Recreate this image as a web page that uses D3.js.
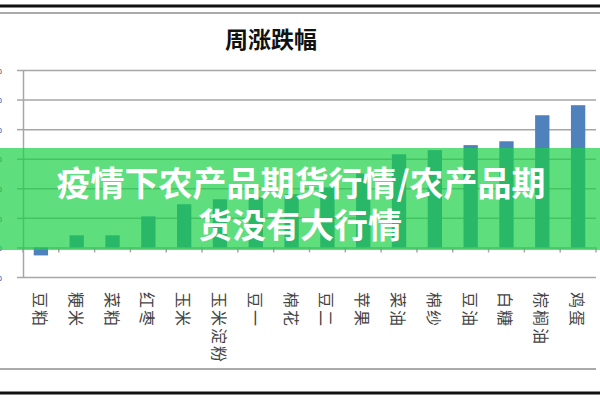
<!DOCTYPE html>
<html>
    <head>
        <meta charset="utf-8">
        <style>
            body{
                margin: 0;
                background-color: white;
            }
            text{
                font-family: "Noto Sans CJK SC", "Noto Sans", sans-serif;
            }
        </style>
        <script src="https://d3js.org/d3.v7.min.js"></script>
    </head>
    <body>
        <script>
            const w = 600;
            const h = 400;

            // data (weekly change, %)
            const categories = ["豆粕","粳米","菜粕","红枣","玉米","玉米淀粉","豆一","棉花","豆二","苹果","菜油","棉纱","豆油","白糖","棕榈油","鸡蛋"];
            const values = [-0.27, 0.41, 0.41, 1.05, 1.46, 1.63, 1.69, 1.8, 2.03, 2.5, 3.15, 3.29, 3.46, 3.59, 4.47, 4.81];
            const yTicks = [-1, 0, 1, 2, 3, 4, 5, 6];
            const title = "周涨跌幅";
            const bannerLines = ["疫情下农产品期货行情/农产品期", "货没有大行情"];

            const plotLeft = 23, plotRight = 596, plotTop = 70, plotBottom = 277;

            const svg = d3.select("body")
                        .append("svg")
                        .attr("width", w)
                        .attr("height", h)

            // frame lines of the screenshot
            svg.append("line").attr("x1",0).attr("x2",w).attr("y1",6).attr("y2",6)
                .attr("stroke","#111").attr("stroke-width",3)
            svg.append("line").attr("x1",0).attr("x2",w).attr("y1",13).attr("y2",13)
                .attr("stroke","#aaa").attr("stroke-width",2)
            svg.append("line").attr("x1",0).attr("x2",plotRight).attr("y1",369).attr("y2",369)
                .attr("stroke","#aaa").attr("stroke-width",2)
            svg.append("line").attr("x1",0).attr("x2",w).attr("y1",393).attr("y2",393)
                .attr("stroke","#111").attr("stroke-width",3)

            svg.append("text")
                .attr("x", 271)
                .attr("y", 38)
                .attr("text-anchor","middle")
                .attr("dominant-baseline","central")
                .style("font-size","23px")
                .style("font-weight","bold")
                .attr("fill","#111")
                .text(title)

            const x = d3.scaleBand()
                        .domain(categories)
                        .range([plotLeft, plotRight])
                        .paddingInner(0.6)
                        .paddingOuter(0.3)

            const y = d3.scaleLinear()
                        .domain([d3.min(yTicks), d3.max(yTicks)])
                        .range([plotBottom, plotTop])

            // gridlines
            svg.append("g")
                .attr("transform","translate(" + plotLeft + ",0)")
                .call(d3.axisLeft(y).tickValues(yTicks).tickSize(-(plotRight-plotLeft)).tickFormat(""))
                .call(g => g.select(".domain").remove())
                .call(g => g.selectAll("line").attr("stroke","#a6a6a6").attr("stroke-width",1.5))

            // y axis with outer ticks and (cut off) labels
            svg.append("g")
                .attr("transform","translate(" + plotLeft + ",0)")
                .call(d3.axisLeft(y).tickValues(yTicks).tickSize(6).tickSizeOuter(0).tickPadding(15).tickFormat(d => d + "%"))
                .call(g => g.select(".domain").attr("stroke","#a6a6a6").attr("stroke-width",1.5))
                .call(g => g.selectAll("line").attr("stroke","#a6a6a6").attr("stroke-width",1.5))
                .call(g => g.selectAll("text").attr("fill","#2f5597").style("font-size","10px"))

            // bars
            svg.selectAll("rect.bar")
                .data(values)
                .enter()
                .append("rect")
                .attr("class","bar")
                .attr("x",(d,i) => x(categories[i]))
                .attr("y",d => y(Math.max(0,d)))
                .attr("width",x.bandwidth())
                .attr("height",d => Math.abs(y(d) - y(0)))
                .attr("fill","#4f81bd")

            // category boundary ticks on the zero line
            const bounds = categories.map(c => x(c) + x.bandwidth()/2 - x.step()/2)
            bounds.push(plotRight)
            svg.selectAll("line.ctick")
                .data(bounds)
                .enter()
                .append("line")
                .attr("class","ctick")
                .attr("x1",d => d).attr("x2",d => d)
                .attr("y1",y(0)).attr("y2",y(0)+5)
                .attr("stroke","#a6a6a6").attr("stroke-width",1.5)

            // category labels, rotated
            svg.selectAll("text.cat")
                .data(categories)
                .enter()
                .append("text")
                .attr("class","cat")
                .attr("transform",d => "translate(" + (x(d) + x.bandwidth()/2) + ",292) rotate(90)")
                .attr("dominant-baseline","central")
                .style("font-size","16px")
                .style("letter-spacing","2px")
                .attr("fill","#444")
                .text(d => d)

            // green banner on top
            svg.append("rect")
                .attr("x",0).attr("y",148)
                .attr("width",w).attr("height",102)
                .attr("fill","rgb(26,208,69)")
                .attr("fill-opacity",0.7)

            svg.selectAll("text.banner")
                .data(bannerLines)
                .enter()
                .append("text")
                .attr("class","banner")
                .attr("x",(d,i) => i == 0 ? 301 : 300)
                .attr("y",(d,i) => 181 + i*42)
                .attr("text-anchor","middle")
                .attr("dominant-baseline","central")
                .style("font-size","34px")
                .style("font-weight","bold")
                .attr("fill","white")
                .text(d => d)
        </script>
    </body>
</html>
